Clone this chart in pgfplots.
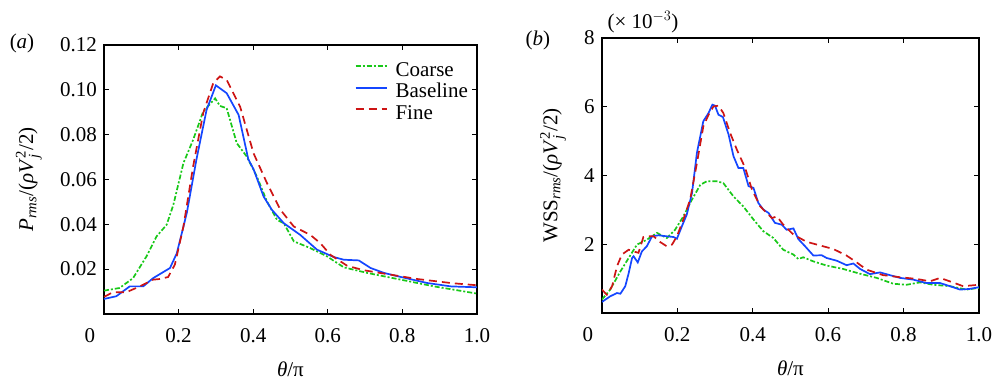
\documentclass[border=0pt]{standalone}
\usepackage{amsmath}
\usepackage{pgfplots}
\pgfplotsset{compat=1.18}
\usepackage{fontspec}
\setmainfont{Liberation Serif}
\definecolor{cgreen}{RGB}{25,200,25}
\definecolor{cblue}{RGB}{20,70,255}
\definecolor{cred}{RGB}{205,20,20}
\begin{document}
\fontsize{21}{25}\selectfont
\begin{tikzpicture}
\path (-104pt,-62pt) rectangle (895pt,314pt);
\pgfplotsset{
  every axis/.style={
    scale only axis,
    xmin=0, xmax=1, ymin=0,
    axis line style={line width=1.5pt},
    tick style={line width=0.8pt, black},
    major tick length=5pt,
    /pgf/number format/assume math mode=true,
    tick label style={font=\fontsize{21}{25}\selectfont},
    xticklabel style={yshift=-7pt},
    label style={font=\fontsize{21}{25}\selectfont},
    xlabel style={yshift=-5pt},
    ylabel style={yshift=4pt},
    xtick={0.2,0.4,0.6,0.8,1.0},
    xticklabels={0.2,0.4,0.6,0.8,1.0},
    extra x ticks={0},
    extra x tick labels={0},
    extra x tick style={xticklabel style={xshift=-14pt}},
    xlabel={\textit{θ}/π},
  },
  coarse/.style={color=cgreen, line width=1.7pt, dash pattern=on 5pt off 2pt on 2pt off 2pt},
  base/.style={color=cblue, line width=1.7pt},
  fine/.style={color=cred, line width=1.7pt, dash pattern=on 8pt off 5pt},
}
\begin{axis}[
  at={(0pt,0pt)}, anchor=south west,
  width=373pt, height=269pt,
  ymax=0.12,
  ytick={0.02,0.04,0.06,0.08,0.10,0.12},
  yticklabels={0.02,0.04,0.06,0.08,0.10,0.12},
  ylabel={\textit{P}$_{\text{\itshape rms}}$/(\textit{ρV}$^{\text{2}}_{\text{\itshape j}}$/2)},
  legend style={at={(0.672,0.94)}, anchor=north west, draw=none, fill=none, inner sep=0pt, row sep=1.5pt,
    font=\fontsize{21}{23}\selectfont,
    nodes={inner ysep=0pt, inner xsep=0pt, text height=15pt, text depth=5pt},
    /tikz/every odd column/.append style={column sep=8pt}},
  legend cell align=left,
  legend image code/.code={\draw[#1] (0pt,5pt) -- (31pt,5pt);},
]
\addplot[coarse] coordinates {
(0,0.0104)(0.042,0.0116)(0.078,0.016)(0.114,0.0257)(0.141,0.0346)(0.168,0.0398)(0.186,0.0487)
(0.213,0.0673)(0.239,0.0777)(0.266,0.0903)(0.298,0.0962)(0.311,0.0928)(0.329,0.0918)(0.356,0.0762)
(0.383,0.0702)(0.410,0.0613)(0.437,0.0502)(0.464,0.042)(0.482,0.0405)(0.509,0.0324)(0.553,0.0294)
(0.598,0.0257)(0.643,0.0208)(0.706,0.0183)(0.796,0.0153)(0.885,0.0123)(1.0,0.0091)};
\addlegendentry{Coarse}
\addplot[base] coordinates {
(0,0.0067)(0.033,0.0079)(0.069,0.0123)(0.105,0.0123)(0.132,0.016)(0.177,0.0205)(0.195,0.027)
(0.222,0.045)(0.248,0.069)(0.275,0.091)(0.300,0.102)(0.329,0.0985)(0.361,0.0888)(0.387,0.069)
(0.401,0.0646)(0.428,0.0524)(0.450,0.0465)(0.482,0.0405)(0.526,0.0353)(0.571,0.0287)(0.616,0.0254)
(0.643,0.0242)(0.683,0.0239)(0.715,0.0205)(0.751,0.0183)(0.796,0.0165)(0.867,0.0138)(0.930,0.0123)(1.0,0.0119)};
\addlegendentry{Baseline}
\addplot[fine] coordinates {
(0,0.0076)(0.024,0.0097)(0.060,0.0097)(0.096,0.0123)(0.132,0.0153)(0.150,0.0156)(0.172,0.0165)
(0.190,0.022)(0.213,0.039)(0.239,0.0658)(0.266,0.0896)(0.293,0.103)(0.311,0.106)(0.329,0.1044)
(0.365,0.0925)(0.401,0.0717)(0.437,0.0584)(0.473,0.0465)(0.509,0.039)(0.553,0.0353)(0.580,0.0316)
(0.607,0.0264)(0.652,0.0215)(0.697,0.0195)(0.751,0.018)(0.840,0.0156)(0.930,0.0138)(1.0,0.0128)};
\addlegendentry{Fine}
\end{axis}
\begin{axis}[
  at={(498pt,1pt)}, anchor=south west,
  width=377pt, height=275pt,
  ymax=8,
  ytick={2,4,6,8},
  yticklabels={2,4,6,8},
  ylabel={WSS$_{\text{\itshape rms}}$/(\textit{ρV}$^{\text{2}}_{\text{\itshape j}}$/2)},
]
\addplot[coarse] coordinates {
(0,0.39)(0.022,0.68)(0.049,1.21)(0.071,1.60)(0.093,1.99)(0.119,2.13)(0.146,2.33)(0.172,2.18)
(0.194,2.42)(0.216,2.81)(0.239,3.30)(0.261,3.73)(0.278,3.83)(0.305,3.83)(0.322,3.78)(0.349,3.39)
(0.375,3.10)(0.402,2.72)(0.428,2.38)(0.455,2.18)(0.481,1.84)(0.508,1.70)(0.521,1.57)(0.534,1.62)
(0.561,1.50)(0.596,1.38)(0.640,1.28)(0.685,1.14)(0.729,1.02)(0.773,0.85)(0.808,0.82)(0.844,0.89)
(0.879,0.82)(0.923,0.78)(0.967,0.68)(1.0,0.73)};
\addplot[base] coordinates {
(0,0.32)(0.022,0.485)(0.040,0.58)(0.049,0.56)(0.062,0.78)(0.071,1.16)(0.080,1.60)(0.084,1.65)
(0.095,1.47)(0.106,1.79)(0.119,1.94)(0.133,2.23)(0.150,2.26)(0.172,2.23)(0.190,2.21)(0.199,2.16)
(0.212,2.52)(0.225,2.86)(0.239,3.49)(0.252,4.66)(0.269,5.58)(0.283,5.82)(0.293,6.06)(0.300,6.03)
(0.309,5.77)(0.321,5.70)(0.336,5.19)(0.349,4.56)(0.362,4.22)(0.375,4.22)(0.389,3.69)(0.402,3.64)
(0.415,3.20)(0.428,3.01)(0.442,2.91)(0.459,2.62)(0.477,2.57)(0.490,2.42)(0.508,2.46)(0.521,2.15)
(0.539,1.94)(0.561,1.67)(0.583,1.68)(0.596,1.60)(0.623,1.52)(0.649,1.39)(0.667,1.44)(0.685,1.28)
(0.711,1.13)(0.738,1.18)(0.764,1.10)(0.791,1.02)(0.826,0.97)(0.861,0.87)(0.897,0.87)(0.923,0.78)
(0.950,0.68)(0.976,0.70)(1.0,0.75)};
\addplot[fine] coordinates {
(0,0.68)(0.013,0.53)(0.027,0.78)(0.040,1.36)(0.053,1.70)(0.071,1.84)(0.084,1.79)(0.097,1.75)
(0.110,2.21)(0.124,2.23)(0.137,2.23)(0.155,2.06)(0.172,1.94)(0.186,1.99)(0.199,2.23)(0.216,2.72)
(0.234,3.30)(0.252,4.36)(0.269,5.43)(0.283,5.77)(0.296,6.01)(0.309,6.03)(0.322,5.82)(0.340,5.24)
(0.358,4.75)(0.380,4.22)(0.398,3.59)(0.420,3.10)(0.437,2.91)(0.451,2.76)(0.464,2.81)(0.481,2.57)
(0.508,2.28)(0.543,2.07)(0.570,1.99)(0.614,1.86)(0.649,1.67)(0.676,1.47)(0.702,1.26)(0.746,1.10)
(0.791,1.04)(0.835,0.99)(0.870,0.92)(0.897,1.02)(0.923,0.92)(0.958,0.78)(1.0,0.82)};
\end{axis}
\node at (-82pt,271pt) {(\textit{a})};
\node at (434pt,274pt) {(\textit{b})};
\node at (539pt,292pt) {(× 10$^{-3}$)};
\end{tikzpicture}
\end{document}
